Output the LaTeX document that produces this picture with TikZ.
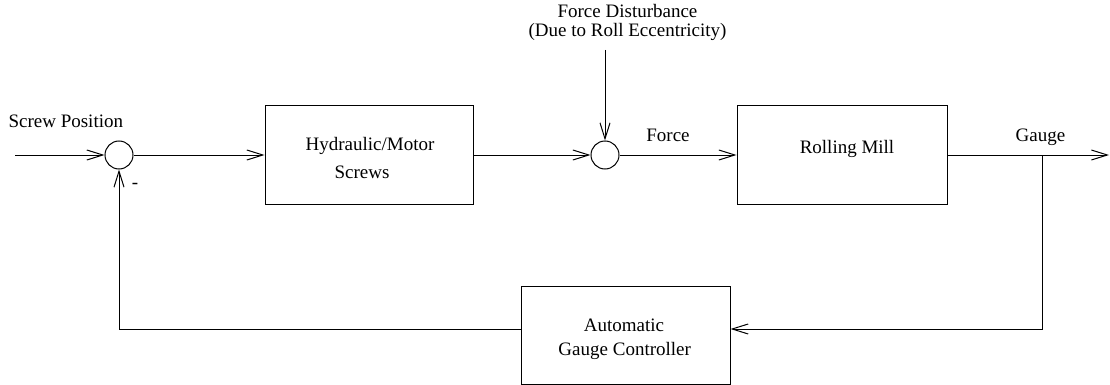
\documentclass[tikz,border=0pt]{standalone}
\usepackage{fontspec}
\setmainfont{Liberation Serif}
\usetikzlibrary{arrows.meta}
\begin{document}
\begin{tikzpicture}[x=1pt,y=-1pt, line width=1pt,
  block/.style={draw, minimum width=#1, minimum height=99pt, inner sep=0pt},
  sumj/.style={draw, circle, minimum size=28pt, inner sep=0pt},
  txt/.style={font=\fontsize{19}{23}\selectfont, anchor=base, inner sep=0pt},
  sig/.style={-{Straight Barb[length=16pt,width=10pt]}}]
\useasboundingbox (0,0) rectangle (1110,385);
\node[sumj] (s1) at (119,155) {};
\node[sumj] (s2) at (605,155) {};
\node[block=208pt] (hyd) at (369,155) {};
\node[block=210pt] (mill) at (842,155) {};
\node[block=209pt, minimum height=98pt] (agc) at (625.5,335) {};
\coordinate (in) at (15,155);
\coordinate (out) at (1109,155);
\coordinate (br) at (1042,155);
\coordinate (fb) at (1042,329);
\coordinate (dist) at (605,50);
\draw[sig] (in) -- (s1);
\draw[sig] (s1) -- (hyd);
\draw[sig] (hyd) -- (s2);
\draw[sig] (s2) -- (mill);
\draw[sig] (mill) -- (out);
\draw[sig] (dist) -- (s2);
\draw[sig] (br) -- (fb) -- (fb -| agc.east);
\draw[sig] (fb -| agc.west) -| (s1.south);
\node[txt] (sp) at (65.8,128) {Screw Position};
\node[txt, anchor=center] (minus) at (135,186) {-};
\node[txt] (fd1) at (627.5,18) {Force Disturbance};
\node[txt] (fd2) at (627.5,37) {(Due to Roll Eccentricity)};
\node[txt] (fl) at (668,142) {Force};
\node[txt] (gl) at (1040.5,142) {Gauge};
\node[txt] (h1) at (370,150) {Hydraulic/Motor};
\node[txt] (h2) at (362,178) {Screws};
\node[txt] (rm) at (847,153) {Rolling Mill};
\node[txt] (a1) at (624,331) {Automatic};
\node[txt] (a2) at (624.7,355) {Gauge Controller};
\end{tikzpicture}
\end{document}
